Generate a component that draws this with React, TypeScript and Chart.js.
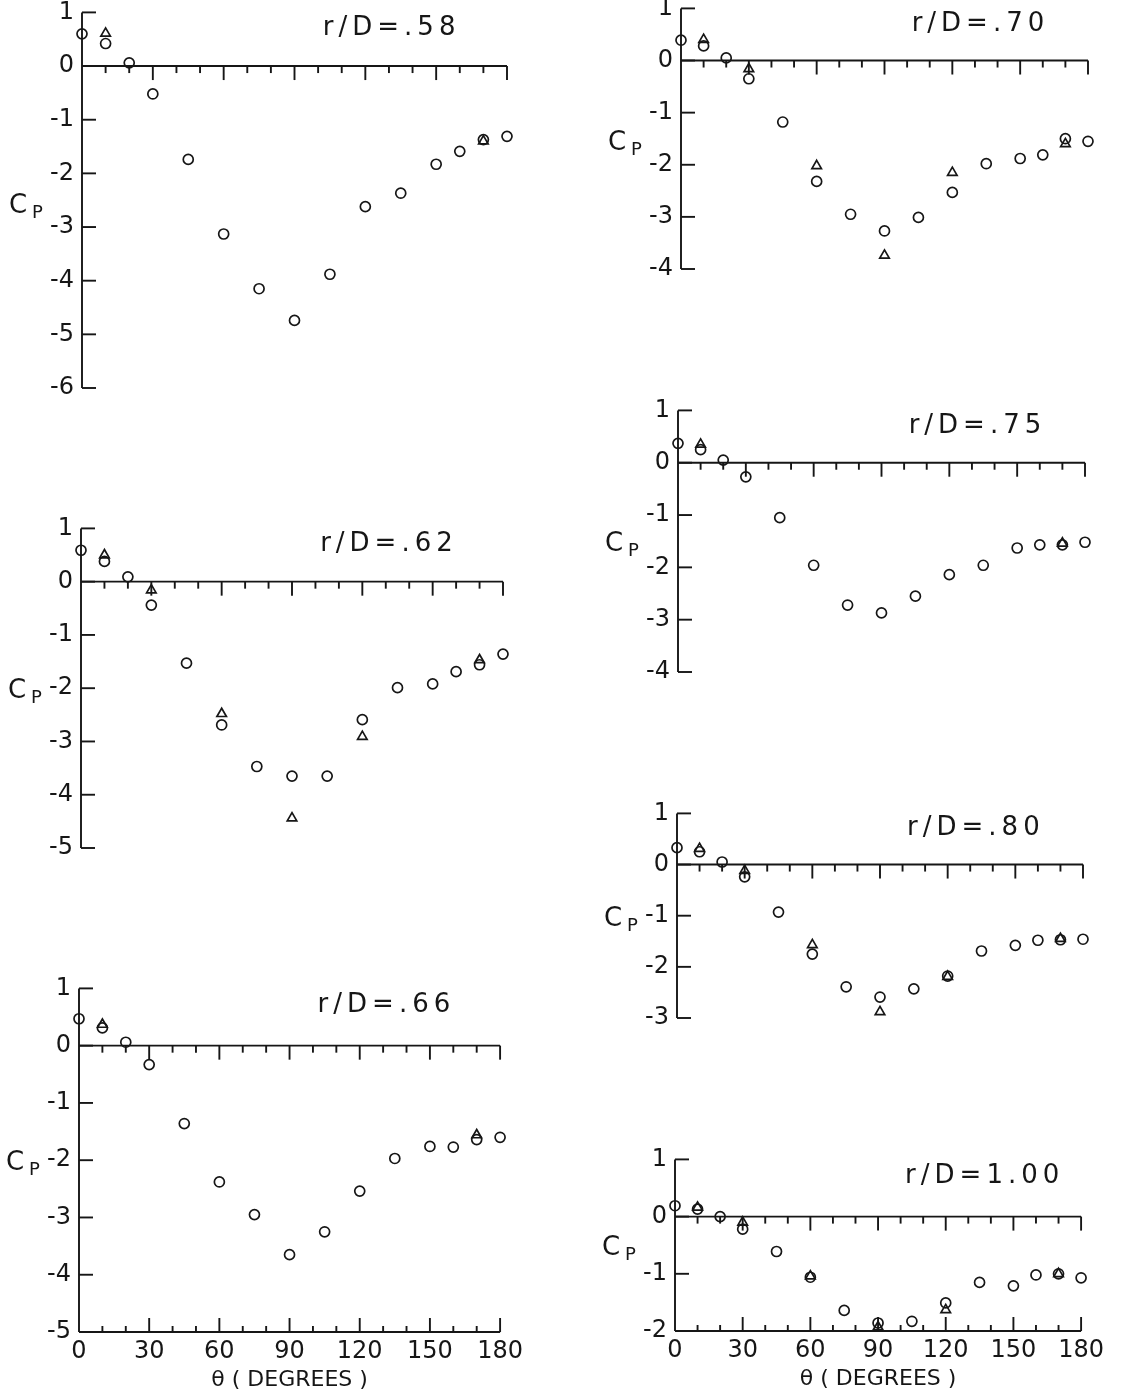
import React, { useEffect, useRef } from 'react';
import { Chart, registerables } from 'chart.js';

Chart.register(...registerables);

// Angular stations around the cylinder (degrees)
const THETA = [0, 10, 20, 30, 45, 60, 75, 90, 105, 120, 135, 150, 160, 170, 180];
const X_TICK_STEP = 30;
const X_MINOR_STEP = 10;

// Pressure coefficient, circle symbols
const CP_58 = [0.6, 0.42, 0.06, -0.52, -1.74, -3.13, -4.15, -4.74, -3.88, -2.62, -2.37, -1.83, -1.59, -1.37, -1.31];
const CP_62 = [0.59, 0.38, 0.09, -0.44, -1.53, -2.69, -3.47, -3.65, -3.65, -2.59, -1.99, -1.92, -1.69, -1.56, -1.36];
const CP_66 = [0.47, 0.31, 0.06, -0.33, -1.36, -2.38, -2.95, -3.65, -3.25, -2.54, -1.97, -1.76, -1.77, -1.64, -1.6];
const CP_70 = [0.39, 0.28, 0.05, -0.35, -1.18, -2.32, -2.95, -3.27, -3.01, -2.53, -1.98, -1.88, -1.81, -1.5, -1.55];
const CP_75 = [0.37, 0.25, 0.05, -0.27, -1.05, -1.96, -2.72, -2.87, -2.55, -2.14, -1.96, -1.63, -1.57, -1.57, -1.52];
const CP_80 = [0.33, 0.25, 0.05, -0.24, -0.93, -1.75, -2.39, -2.59, -2.43, -2.18, -1.69, -1.58, -1.48, -1.47, -1.46];
const CP_100 = [0.19, 0.13, 0.0, -0.22, -0.61, -1.06, -1.64, -1.86, -1.83, -1.51, -1.15, -1.21, -1.02, -1.0, -1.07];

// Pressure coefficient, triangle symbols (repeat runs)
const TRI_THETA_58 = [10, 170];
const TRI_CP_58 = [0.61, -1.4];
const TRI_THETA_62 = [10, 30, 60, 90, 120, 170];
const TRI_CP_62 = [0.5, -0.16, -2.48, -4.44, -2.91, -1.47];
const TRI_THETA_66 = [10, 170];
const TRI_CP_66 = [0.37, -1.56];
const TRI_THETA_70 = [10, 30, 60, 90, 120, 170];
const TRI_CP_70 = [0.4, -0.16, -2.02, -3.74, -2.15, -1.6];
const TRI_THETA_75 = [10, 170];
const TRI_CP_75 = [0.35, -1.54];
const TRI_THETA_80 = [10, 30, 60, 90, 120, 170];
const TRI_CP_80 = [0.31, -0.12, -1.57, -2.88, -2.19, -1.45];
const TRI_THETA_100 = [10, 30, 60, 90, 120, 170];
const TRI_CP_100 = [0.16, -0.1, -1.04, -1.93, -1.63, -1.0];

const TITLES = ['r/D=.58', 'r/D=.62', 'r/D=.66', 'r/D=.70', 'r/D=.75', 'r/D=.80', 'r/D=1.00'];
const Y_MINS = [-6, -5, -5, -4, -4, -3, -2];
const Y_MAX = 1;
const X_AXIS_TITLE = 'θ ( DEGREES )';

const INK = '#161616';
const FONT = '"DejaVu Sans", sans-serif';

type PanelSpec = {
  title: string;
  circles: number[];
  triTheta: number[];
  triCp: number[];
  yMin: number;
  cpLevel: number;
  xLabels: boolean;
  left: number; // pixel of theta = 0
  right: number; // pixel of theta = 180
  top: number; // pixel of Cp = 1
  bottom: number; // pixel of Cp = yMin
};

const PANELS: PanelSpec[] = [
  { title: TITLES[0], circles: CP_58, triTheta: TRI_THETA_58, triCp: TRI_CP_58, yMin: Y_MINS[0], cpLevel: -2.55, xLabels: false, left: 82, right: 507, top: 12, bottom: 412 },
  { title: TITLES[1], circles: CP_62, triTheta: TRI_THETA_62, triCp: TRI_CP_62, yMin: Y_MINS[1], cpLevel: -2.0, xLabels: false, left: 81, right: 503, top: 528, bottom: 872 },
  { title: TITLES[2], circles: CP_66, triTheta: TRI_THETA_66, triCp: TRI_CP_66, yMin: Y_MINS[2], cpLevel: -2.0, xLabels: true, left: 79, right: 502, top: 988, bottom: 1332 },
  { title: TITLES[3], circles: CP_70, triTheta: TRI_THETA_70, triCp: TRI_CP_70, yMin: Y_MINS[3], cpLevel: -1.52, xLabels: false, left: 681, right: 1088, top: 8, bottom: 293 },
  { title: TITLES[4], circles: CP_75, triTheta: TRI_THETA_75, triCp: TRI_CP_75, yMin: Y_MINS[4], cpLevel: -1.5, xLabels: false, left: 678, right: 1085, top: 410, bottom: 696 },
  { title: TITLES[5], circles: CP_80, triTheta: TRI_THETA_80, triCp: TRI_CP_80, yMin: Y_MINS[5], cpLevel: -1.0, xLabels: false, left: 677, right: 1083, top: 813, bottom: 1042 },
  { title: TITLES[6], circles: CP_100, triTheta: TRI_THETA_100, triCp: TRI_CP_100, yMin: Y_MINS[6], cpLevel: -0.5, xLabels: true, left: 675, right: 1083, top: 1159, bottom: 1331 },
];

const PAD_L = 85;
const PAD_T = 22;
const PAD_R = 26;

// Plotter-style axes: spine with inward ticks, zero line with hanging ticks,
// optional bottom axis with rising ticks, plus in-plot annotations.
function plotterAxes(p: PanelSpec) {
  return {
    id: 'plotterAxes',
    afterDatasetsDraw(chart: any) {
      const ctx = chart.ctx as CanvasRenderingContext2D;
      const xs = chart.scales.x;
      const ys = chart.scales.y;
      const x0 = xs.getPixelForValue(0);
      const x180 = xs.getPixelForValue(180);
      ctx.save();
      ctx.strokeStyle = INK;
      ctx.lineWidth = 1.9;
      ctx.lineCap = 'butt';

      // vertical spine
      ctx.beginPath();
      ctx.moveTo(x0, ys.getPixelForValue(Y_MAX));
      ctx.lineTo(x0, ys.getPixelForValue(p.yMin));
      ctx.stroke();
      // inward ticks on the spine
      for (let v = Y_MAX; v >= p.yMin; v--) {
        const y = ys.getPixelForValue(v);
        ctx.beginPath();
        ctx.moveTo(x0, y);
        ctx.lineTo(x0 + 14, y);
        ctx.stroke();
      }

      // zero line with downward ticks
      const yz = ys.getPixelForValue(0);
      ctx.beginPath();
      ctx.moveTo(x0, yz);
      ctx.lineTo(x180, yz);
      ctx.stroke();
      for (let t = X_MINOR_STEP; t <= 180; t += X_MINOR_STEP) {
        const x = xs.getPixelForValue(t);
        const len = t % X_TICK_STEP === 0 ? 14 : 7;
        ctx.beginPath();
        ctx.moveTo(x, yz);
        ctx.lineTo(x, yz + len);
        ctx.stroke();
      }

      // bottom axis with upward ticks
      if (p.xLabels) {
        const yb = ys.getPixelForValue(p.yMin);
        ctx.beginPath();
        ctx.moveTo(x0, yb);
        ctx.lineTo(x180, yb);
        ctx.stroke();
        for (let t = X_MINOR_STEP; t <= 180; t += X_MINOR_STEP) {
          const x = xs.getPixelForValue(t);
          const len = t % X_TICK_STEP === 0 ? 14 : 6;
          ctx.beginPath();
          ctx.moveTo(x, yb);
          ctx.lineTo(x, yb - len);
          ctx.stroke();
        }
        ctx.fillStyle = INK;
        ctx.font = `22px ${FONT}`;
        ctx.textAlign = 'center';
        ctx.textBaseline = 'middle';
        ctx.fillText(X_AXIS_TITLE, (x0 + x180) / 2, yb + 48);
      }

      // panel title
      ctx.fillStyle = INK;
      ctx.font = `26px ${FONT}`;
      ctx.textAlign = 'left';
      ctx.textBaseline = 'middle';
      (ctx as any).letterSpacing = '5px';
      ctx.fillText(p.title, xs.getPixelForValue(102), ys.getPixelForValue(0.7));
      (ctx as any).letterSpacing = '0px';

      // Cp label
      const cy = ys.getPixelForValue(p.cpLevel);
      ctx.textBaseline = 'alphabetic';
      ctx.font = `26px ${FONT}`;
      ctx.fillText('C', x0 - 73, cy + 10);
      ctx.font = `18px ${FONT}`;
      ctx.fillText('P', x0 - 50, cy + 15);
      ctx.restore();
    },
  };
}

function Panel({ p }: { p: PanelSpec }) {
  const ref = useRef<HTMLCanvasElement>(null);
  const padB = p.xLabels ? 78 : 24;
  const width = p.right - p.left + PAD_L + PAD_R;
  const height = p.bottom - p.top + PAD_T + padB;

  useEffect(() => {
    if (!ref.current) return;
    const tickFont = { family: FONT, size: 24 };
    const chart = new Chart(ref.current, {
      type: 'scatter',
      data: {
        datasets: [
          {
            data: THETA.map((t, i) => ({ x: t, y: p.circles[i] })),
            pointStyle: 'circle',
            pointRadius: 5,
            borderColor: INK,
            backgroundColor: 'rgba(0,0,0,0)',
            borderWidth: 1.7,
            clip: false,
          },
          {
            data: p.triTheta.map((t, i) => ({ x: t, y: p.triCp[i] })),
            pointStyle: 'triangle',
            pointRadius: 5.5,
            borderColor: INK,
            backgroundColor: 'rgba(0,0,0,0)',
            borderWidth: 1.7,
            clip: false,
          },
        ],
      },
      options: {
        responsive: false,
        animation: false,
        events: [],
        layout: { padding: { left: 0, top: PAD_T, right: PAD_R, bottom: p.xLabels ? 0 : padB } },
        plugins: { legend: { display: false }, tooltip: { enabled: false } },
        scales: {
          x: {
            type: 'linear',
            min: 0,
            max: 180,
            display: p.xLabels,
            position: 'bottom',
            grid: { display: false, drawTicks: false },
            border: { display: false },
            ticks: { stepSize: X_TICK_STEP, padding: 5, font: tickFont, color: INK, maxRotation: 0, autoSkip: false },
            afterFit: (s: any) => {
              s.height = padB;
            },
          },
          y: {
            type: 'linear',
            min: p.yMin,
            max: Y_MAX,
            position: 'left',
            grid: { display: false, drawTicks: false },
            border: { display: false },
            ticks: {
              stepSize: 1,
              padding: 8,
              font: tickFont,
              color: INK,
              callback: (v: any) => (Number(v) < 0 ? '-' + Math.abs(Number(v)) : String(v)),
            },
            afterFit: (s: any) => {
              s.width = PAD_L;
            },
          },
        },
      } as any,
      plugins: [plotterAxes(p)],
    });
    return () => chart.destroy();
  }, []);

  return (
    <canvas
      ref={ref}
      width={width}
      height={height}
      style={{ position: 'absolute', left: p.left - PAD_L, top: p.top - PAD_T, width, height }}
    />
  );
}

export default function App() {
  return (
    <div style={{ position: 'absolute', left: 0, top: 0, width: 1135, height: 1397, background: '#fff', overflow: 'hidden' }}>
      {PANELS.map((p) => (
        <Panel key={p.title} p={p} />
      ))}
    </div>
  );
}
